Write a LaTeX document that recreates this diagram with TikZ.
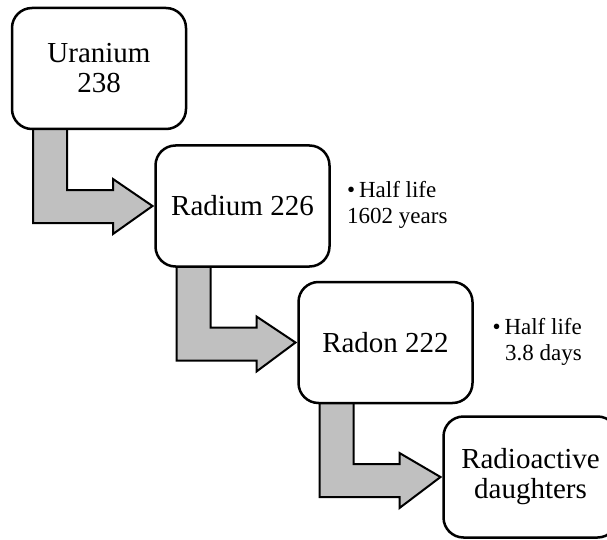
\documentclass[tikz,border=0pt]{standalone}
\usepackage{fontspec}
\setmainfont{Liberation Serif}
\usetikzlibrary{calc,backgrounds}
\definecolor{arrowgray}{RGB}{192,192,192}
\begin{document}
\begin{tikzpicture}[x=1pt,y=-1pt,
  box/.style={draw=black, line width=2.5pt, rounded corners=20pt, fill=white,
    minimum width=174pt, minimum height=121pt, inner sep=0pt, outer sep=0pt,
    align=center, font=\fontsize{29}{30}\selectfont},
  note/.style={inner sep=0pt, font=\fontsize{23}{26}\selectfont},
  flow/.style={fill=arrowgray, draw=black, line width=2pt, line join=miter}]
\useasboundingbox (0,0) rectangle (607,540);
\node[box] (u)  at (99,68.5)   {Uranium\\238};
\node[box] (ra) at (242.5,206) {Radium 226};
\node[box] (rn) at (385.5,342.5) {Radon 222};
\node[box] (rd) at (530.5,477) {Radioactive\\daughters};
\node[note, anchor=west, align=left] (h1) at (347,205) {•\,Half life\\1602 years};
\node[note, anchor=east, align=right] (h2) at (582,342) {•\,Half life\\3.8 days};
\begin{scope}[on background layer]
\foreach \a/\b in {u/ra, ra/rn, rn/rd}{
  \filldraw[flow] ($(\a.south west)+(55,-2)$) -- ($(\a.south west)+(55,61)$)
    -- ($(\a.south west)+(101,61)$) -- ($(\a.south west)+(101,50)$)
    -- ($(\b.west)+(-3,0)$) -- ($(\a.south west)+(101,105)$)
    -- ($(\a.south west)+(101,94)$) -- ($(\a.south west)+(21,94)$)
    -- ($(\a.south west)+(21,-2)$);
}
\end{scope}
\end{tikzpicture}
\end{document}
